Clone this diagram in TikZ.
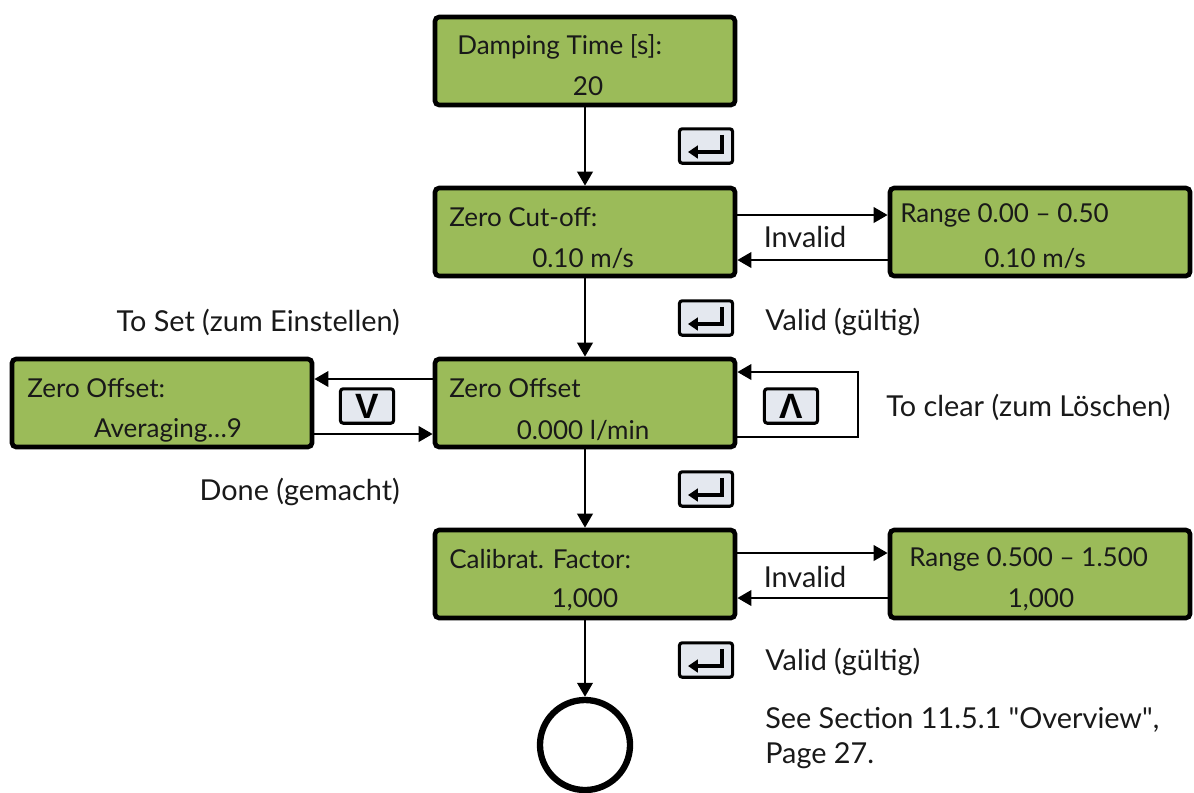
\documentclass[tikz,border=0pt]{standalone}
\usepackage{fontspec}
\setmainfont{Lato}
\newfontfamily\keyfont{Liberation Sans}
\usepackage{tikz}
\usepackage{xcolor}
\usetikzlibrary{arrows.meta}
\definecolor{LCD_Green}{HTML}{9BBB59}
\definecolor{Key_Gray}{HTML}{E4E8EF}

\tikzset{
    lcd/.style={draw=black, line width=3.3pt, rounded corners=3pt, fill=LCD_Green,
        minimum width=7.5cm, minimum height=2.2cm, inner sep=0pt},
    lcdtxt/.style={inner sep=0pt, font=\fontsize{18.5pt}{22pt}\selectfont, text=black!90},
    note/.style={inner sep=0pt, font=\fontsize{20.5pt}{24pt}\selectfont, text=black!90},
    keybox/.style={draw=black, line width=2.2pt, rounded corners=2pt, fill=Key_Gray,
        minimum width=1.33cm, minimum height=0.86cm, inner sep=0pt},
    flow/.style={line width=1.8pt, -{Triangle[length=10pt, width=11pt]}},
    endcircle/.style={draw=black, line width=4.5pt, circle, minimum size=2.25cm, inner sep=0pt},
}

\newcommand{\enterkey}[2]{%
    \node[keybox] (#1) at (#2) {};
    \draw[line width=2.3pt, -{Triangle[length=7pt, width=9pt]}]
        ([xshift=0.4cm, yshift=0.28cm]#1.center) -- ++(0,-0.43cm) -- ++(-0.85cm,0);
}

\begin{document}
\begin{tikzpicture}[x=0.025cm, y=-0.025cm]
    \useasboundingbox (0,0) rectangle (1194,792);

    % Displays, middle column
    \node[lcd] (damp) at (585,61) {};
    \node[lcdtxt, anchor=west] (dampA) at (457,47) {Damping Time [s]:};
    \node[lcdtxt] (dampB) at (588,86) {20};

    \node[lcd] (cut) at (585,232) {};
    \node[lcdtxt, anchor=west] (cutA) at (449,217) {Zero Cut-off:};
    \node[lcdtxt] (cutB) at (583,258) {0.10 m/s};

    \node[lcd] (offs) at (585,403) {};
    \node[lcdtxt, anchor=west] (offsA) at (449,388) {Zero Offset};
    \node[lcdtxt] (offsB) at (583,430) {0.000 l/min};

    \node[lcd] (calib) at (585,574) {};
    \node[lcdtxt, anchor=west] (calibA) at (449,559) {Calibrat. Factor:};
    \node[lcdtxt] (calibB) at (585,600) {1,000};

    % Displays, sides
    \node[lcd] (rngA) at (1040,232) {};
    \node[lcdtxt, anchor=west] (rngAa) at (900,215) {Range 0.00 -- 0.50};
    \node[lcdtxt] (rngAb) at (1035,258) {0.10 m/s};

    \node[lcd] (avg) at (162,403) {};
    \node[lcdtxt, anchor=west] (avgA) at (27,388) {Zero Offset:};
    \node[lcdtxt] (avgB) at (168,430) {Averaging…9};

    \node[lcd] (rngB) at (1040,574) {};
    \node[lcdtxt, anchor=west] (rngBa) at (909,559) {Range 0.500 -- 1.500};
    \node[lcdtxt] (rngBb) at (1041,600) {1,000};

    % End
    \node[endcircle] (end) at (585,745) {};

    % Main flow
    \draw[flow] (damp) -- (cut);
    \draw[flow] (cut) -- (offs);
    \draw[flow] (offs) -- (calib);
    \draw[flow] (calib) -- (end);

    % Range checks
    \draw[flow] (cut.east |- 0,215) -- (rngA.west |- 0,215);
    \draw[flow] (rngA.west |- 0,260) -- (cut.east |- 0,260);
    \node[note] (inv1) at (805,237) {Invalid};
    \draw[flow] (calib.east |- 0,553) -- (rngB.west |- 0,553);
    \draw[flow] (rngB.west |- 0,598) -- (calib.east |- 0,598);
    \node[note] (inv2) at (805,577) {Invalid};

    % Zero offset
    \draw[flow] (offs.west |- 0,379) -- (avg.east |- 0,379);
    \draw[flow] (avg.east |- 0,434) -- (offs.west |- 0,434);
    \draw[flow] (offs.east |- 0,437) -| (858,372) -- (offs.east |- 0,372);

    % Keys
    \enterkey{ent1}{706,146}
    \enterkey{ent2}{706,318}
    \enterkey{ent3}{706,489}
    \enterkey{ent4}{706,660}
    \node[keybox, font=\keyfont\bfseries\fontsize{25pt}{25pt}\selectfont] (down) at (367,406) {V};
    \node[keybox, font=\keyfont\bfseries\fontsize{25pt}{25pt}\selectfont] (up) at (791,406) {Λ};

    % Notes
    \node[note, anchor=east] (toset) at (400,322) {To Set (zum Einstellen)};
    \node[note, anchor=west] (valid1) at (765,322) {Valid (gültig)};
    \node[note, anchor=west] (clear) at (886,407) {To clear (zum Löschen)};
    \node[note, anchor=east] (done) at (400,492) {Done (gemacht)};
    \node[note, anchor=west] (valid2) at (765,662) {Valid (gültig)};
    \node[note, anchor=north west, align=left] (see) at (765,707)
        {See Section 11.5.1 \textquotedbl Overview\textquotedbl,\\[1pt]Page 27.};
\end{tikzpicture}
\end{document}
